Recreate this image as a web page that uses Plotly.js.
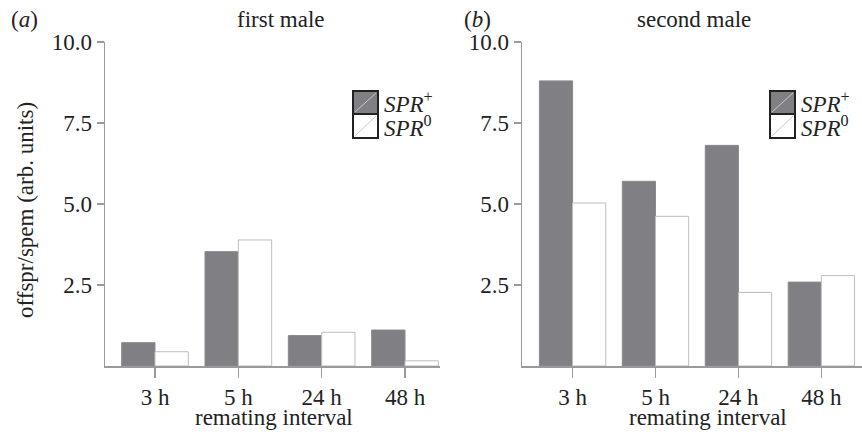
<!DOCTYPE html>
<html>
<head>
<meta charset="utf-8">
<script src="https://cdn.plot.ly/plotly-3.0.1.min.js"></script>
<style>html,body{margin:0;padding:0;background:#fff}</style>
</head>
<body>
<div id="chart" style="width:862px;height:443px"></div>
<script>
const intervals = ["3 h", "5 h", "24 h", "48 h"];
const firstPlus = [0.72, 3.53, 0.94, 1.11];
const firstZero = [0.44, 3.89, 1.04, 0.16];
const secondPlus = [8.80, 5.70, 6.81, 2.59];
const secondZero = [5.03, 4.62, 2.27, 2.79];
const yTickVals = [2.5, 5, 7.5, 10];
const yTickText = ["2.5", "5.0", "7.5", "10.0"];

const W = 862, H = 443;
const FONT = "Liberation Serif, Times New Roman, serif";
const FS = 23;
const AXC = "#9a9a9a";
const DARK = "#808084";
const px = x => x / W;
const py = y => 1 - y / H;

function bars(y, name, xa, ya, fill, edge) {
  return {type: "bar", x: intervals, y: y, name: name, xaxis: xa, yaxis: ya,
    marker: {color: fill, line: {color: edge, width: 1}}, showlegend: false, hoverinfo: "skip"};
}
const data = [
  bars(firstPlus, "SPR+", "x", "y", DARK, "#8a8a8e"),
  bars(firstZero, "SPR0", "x", "y", "#ffffff", "#bdbdbd"),
  bars(secondPlus, "SPR+", "x2", "y2", DARK, "#8a8a8e"),
  bars(secondZero, "SPR0", "x2", "y2", "#ffffff", "#bdbdbd")
];

function xax(domain, range) {
  return {domain: domain, range: range, type: "category", showline: true, linecolor: AXC, linewidth: 1.5,
    ticks: "outside", ticklen: 10, tickwidth: 1.5, tickcolor: AXC, showgrid: false, zeroline: false,
    tickfont: {family: FONT, size: FS, color: "#222"}, fixedrange: true};
}
function yax(anchor) {
  return {domain: [py(366), py(42)], range: [0, 10], anchor: anchor, showline: true, linecolor: AXC, linewidth: 1.5,
    ticks: "outside", ticklen: 7, tickwidth: 1.5, tickcolor: AXC, showgrid: false, zeroline: false,
    tickmode: "array", tickvals: yTickVals, ticktext: yTickText,
    tickfont: {family: FONT, size: FS, color: "#222"}, fixedrange: true};
}

const shapes = [];
const annotations = [];
function legend(x0) {
  const rows = [[91, 114, DARK, "<i>SPR</i><sup>+</sup>"], [114, 138, "#ffffff", "<i>SPR</i><sup>0</sup>"]];
  rows.forEach(r => {
    shapes.push({type: "rect", xref: "paper", yref: "paper", x0: px(x0), x1: px(x0 + 25), y0: py(r[1]), y1: py(r[0]),
      fillcolor: r[2], line: {color: "#222", width: 2}});
    shapes.push({type: "line", xref: "paper", yref: "paper", x0: px(x0 + 2), x1: px(x0 + 23), y0: py(r[1] - 2), y1: py(r[0] + 2),
      line: {color: "#c8c8c8", width: 1}});
    annotations.push({xref: "paper", yref: "paper", x: px(x0 + 29), y: py((r[0] + r[1]) / 2), xanchor: "left", yanchor: "middle",
      text: r[3], showarrow: false, font: {family: FONT, size: FS, color: "#222"}});
  });
}
legend(353);
legend(770);

function txt(text, x, y, extra) {
  annotations.push(Object.assign({xref: "paper", yref: "paper", x: px(x), y: py(y), xanchor: "center", yanchor: "middle",
    text: text, showarrow: false, font: {family: FONT, size: FS, color: "#222"}}, extra || {}));
}
txt("(<i>a</i>)", 24, 19);
txt("first male", 281, 19);
txt("(<i>b</i>)", 477, 19);
txt("second male", 694, 19);
txt("remating interval", 274, 417);
txt("remating interval", 708, 417);
txt("offspr/spem (arb. units)", 25, 210, {textangle: -90});

const layout = {
  width: W, height: H, margin: {l: 0, r: 0, t: 0, b: 0}, paper_bgcolor: "#fff", plot_bgcolor: "rgba(0,0,0,0)",
  barmode: "group", bargap: 0.2, bargroupgap: 0, showlegend: false,
  xaxis: Object.assign(xax([px(105), px(440)], [-0.6, 3.42]), {anchor: "y"}),
  yaxis: yax("x"),
  xaxis2: Object.assign(xax([px(522), px(862)], [-0.61, 3.49]), {anchor: "y2"}),
  yaxis2: yax("x2"),
  shapes: shapes, annotations: annotations
};
Plotly.newPlot("chart", data, layout, {displayModeBar: false, staticPlot: true});
</script>
</body>
</html>
